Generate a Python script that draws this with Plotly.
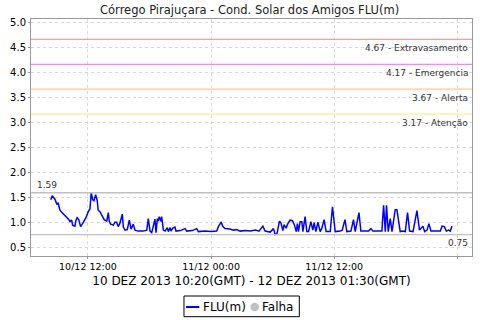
import plotly.graph_objects as go

# ---- data (local time) ----
day1 = "2013-12-10 "
day2 = "2013-12-11 "
times_d1 = ["08:23","08:31","08:47","08:57","09:06","09:16","09:35","09:55","10:09","10:15",
            "10:25","10:30","10:44","10:50","10:57","11:06","11:17","11:32","11:48","12:02",
            "12:12","12:19","12:28","12:35","12:45","12:54","13:00","13:10","13:22","13:35",
            "13:50","13:59","14:05","14:13","14:28","14:38","14:48","14:57","15:07","15:21",
            "15:27","15:37","15:50","16:02","16:12","16:25","16:35","16:54","17:24","17:44",
            "17:53","18:03","18:13","18:22","18:32","18:38","18:46","18:51","18:57","19:06",
            "19:11","19:21","19:31","19:44","19:50","20:00","20:06","20:16","20:29","20:35",
            "21:00","21:28","21:38","22:10","22:36","22:46","23:25"]
vals_d1 = [1.45,1.53,1.46,1.37,1.38,1.24,1.17,1.11,1.05,1.01,
           1.04,0.94,0.92,1.04,1.09,1.05,0.91,0.99,1.09,1.21,
           1.27,1.59,1.45,1.43,1.55,1.44,1.24,1.21,1.12,1.05,
           1.02,1.19,1.01,0.96,0.94,1.00,1.00,0.91,0.98,1.16,
           0.90,0.84,0.85,1.04,0.86,0.96,0.84,0.82,0.82,0.84,
           1.07,0.82,0.79,0.93,1.06,0.79,1.07,1.02,1.11,1.02,
           1.11,0.84,0.82,0.89,0.81,0.89,0.82,0.88,0.90,0.82,
           0.83,0.87,0.82,0.83,0.87,0.81,0.82]
times_d2 = ["00:00","00:33","00:43","00:59","01:09","01:22","01:50","02:11","02:30","02:50",
            "03:20","03:50","04:20","04:40","05:03","05:16","05:46","06:05","06:15","06:25",
            "06:40","06:48","07:00","07:07","07:19","07:29","07:42","07:56","08:08","08:18",
            "08:25","08:31","08:41","08:51","08:57","09:10","09:20","09:30","09:44","09:55",
            "10:03","10:13","10:25","10:38","10:48","11:01","11:13","11:37","11:50","12:00",
            "12:06","12:35","12:47","13:03","13:14","13:38","13:53","14:03","14:25","14:36",
            "15:21","15:35","15:47","16:39","16:49","16:59","17:06","17:16","17:28","17:38",
            "17:57","18:07","18:17","18:26","18:42","18:56","19:09","19:21","19:41","20:04",
            "20:19","20:39","20:49","21:03","21:14","21:26","22:21","22:31","22:44","22:56",
            "23:09","23:19","23:29"]
vals_d2 = [0.81,0.82,0.91,1.00,0.91,0.87,0.86,0.84,0.85,0.82,
           0.83,0.82,0.84,0.82,0.92,0.82,0.80,0.87,0.75,0.76,
           1.02,0.99,0.83,0.95,0.88,0.97,1.04,1.03,0.94,0.81,
           0.97,0.81,1.01,1.01,0.81,1.11,0.81,0.81,1.01,0.84,
           0.99,0.81,1.00,0.81,0.88,1.05,0.81,0.81,1.31,0.89,
           0.81,0.82,0.84,1.05,0.81,0.82,1.05,0.81,1.19,0.82,
           0.82,0.87,0.82,0.82,1.34,0.81,1.34,0.81,1.07,0.81,
           1.25,1.25,1.05,0.81,0.82,0.81,1.19,0.82,0.81,1.23,
           0.84,0.92,0.81,0.84,0.97,0.82,0.82,0.92,0.91,0.82,
           0.84,0.82,0.92]
times = [day1 + t for t in times_d1] + [day2 + t for t in times_d2]
values = vals_d1 + vals_d2

levels = [4.67, 4.17, 3.67, 3.17]
level_names = ["Extravasamento", "Emergencia", "Alerta", "Atenção"]
level_colors = ["#f0a0a0", "#ff80ff", "#ffc896", "#fff080"]

tick_vals = ["2013-12-10 12:00", "2013-12-11 00:00", "2013-12-11 12:00", "2013-12-12 00:00"]
tick_text = ["10/12 12:00", "11/12 00:00", "11/12 12:00", "12/12 00:00"]

title = "Córrego Pirajuçara - Cond. Solar dos Amigos FLU(m)"
subtitle = "10 DEZ 2013 10:20(GMT) - 12 DEZ 2013 01:30(GMT)"
legend_names = ["FLU(m)", "Falha"]
series_color = "#0000ff"
fail_color = "#c0c0c0"

FONT = "DejaVu Sans"

fig = go.Figure()
fig.add_trace(go.Scatter(x=times, y=values, mode="lines", name=legend_names[0],
                         line=dict(color=series_color, width=1.5), showlegend=False))

for lv, nm, col in zip(levels, level_names, level_colors):
    fig.add_shape(type="line", xref="paper", x0=0, x1=1, yref="y", y0=lv, y1=lv,
                  line=dict(color=col, width=1.3))
    fig.add_annotation(xref="paper", x=0.995, y=lv, yref="y", text=f"{lv:.2f} - {nm}",
                       showarrow=False, xanchor="right", yanchor="top", yshift=-2,
                       font=dict(family=FONT, size=9, color="#333333"))

vmax, vmin = max(values), min(values)
for v in (vmax, vmin):
    fig.add_shape(type="line", xref="paper", x0=0, x1=1, yref="y", y0=v, y1=v,
                  line=dict(color="#c0c0c0", width=1.3))
fig.add_annotation(xref="paper", x=0.008, y=vmax, yref="y", text=f"{vmax:.2f}",
                   showarrow=False, xanchor="left", yanchor="bottom", yshift=1,
                   font=dict(family=FONT, size=9, color="#333333"))
fig.add_annotation(xref="paper", x=0.995, y=vmin, yref="y", text=f"{vmin:.2f}",
                   showarrow=False, xanchor="right", yanchor="top", yshift=-1,
                   font=dict(family=FONT, size=9, color="#333333"))

# ---- legend box (drawn below the plot) ----
fig.add_shape(type="rect", xref="paper", yref="paper", x0=0.3469, x1=0.6084,
              y0=-0.2561, y1=-0.1688, line=dict(color="#000000", width=1),
              fillcolor="white")
fig.add_shape(type="line", xref="paper", yref="paper", x0=0.3515, x1=0.3816,
              y0=-0.2152, y1=-0.2152, line=dict(color=series_color, width=2))
fig.add_annotation(xref="paper", yref="paper", x=0.3850, y=-0.2152, text=legend_names[0],
                   showarrow=False, xanchor="left", yanchor="middle",
                   font=dict(family=FONT, size=12, color="#000000"))
fig.add_shape(type="circle", xref="paper", yref="paper", x0=0.4975, x1=0.5170,
              y0=-0.2333, y1=-0.1970, line=dict(color=fail_color, width=0),
              fillcolor=fail_color)
fig.add_annotation(xref="paper", yref="paper", x=0.5185, y=-0.2152, text=legend_names[1],
                   showarrow=False, xanchor="left", yanchor="middle",
                   font=dict(family=FONT, size=12, color="#000000"))

fig.update_layout(
    width=480, height=320,
    margin=dict(l=31, r=8, t=19, b=64, autoexpand=False),
    paper_bgcolor="white", plot_bgcolor="white",
    font=dict(family=FONT, size=10, color="#000000"),
    title=dict(text=title, x=0.52, xanchor="center", y=0.982, yanchor="top",
               font=dict(family=FONT, size=11.5, color="#222222")),
    showlegend=False,
    xaxis=dict(type="date", range=["2013-12-10 06:27", "2013-12-12 01:26"],
               tickvals=tick_vals, ticktext=tick_text, tickangle=0,
               tickfont=dict(family=FONT, size=9.5),
               showgrid=True, gridcolor="#d8d8d8", griddash="dot", gridwidth=1,
               showline=True, linecolor="#999999", linewidth=1, mirror=True,
               ticks="outside", ticklen=2, tickcolor="#999999",
               title=dict(text=subtitle, font=dict(family=FONT, size=12), standoff=5),
               zeroline=False),
    yaxis=dict(range=[0.32, 5.08], dtick=0.5, tick0=0, tickformat=".1f",
               tickfont=dict(family=FONT, size=10),
               showgrid=True, gridcolor="#d8d8d8", griddash="dot", gridwidth=1,
               showline=True, linecolor="#999999", linewidth=1, mirror=True,
               ticks="outside", ticklen=2, tickcolor="#999999", zeroline=False),
)

fig.write_html("out.html")
